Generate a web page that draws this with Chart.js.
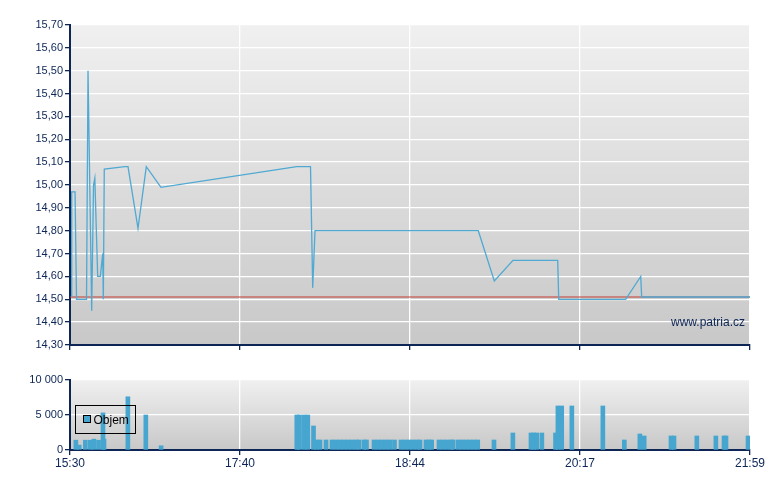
<!DOCTYPE html>
<html>
<head>
<meta charset="utf-8">
<script src="https://cdn.jsdelivr.net/npm/chart.js@4.4.1/dist/chart.umd.min.js"></script>
<style>
body { margin: 0; background: #fff; }
#wrap { position: relative; width: 780px; height: 490px; }
#priceChart { position: absolute; left: 0; top: 0; }
#volumeChart { position: absolute; left: 0; top: 360px; }
</style>
</head>
<body>
<div id="wrap">
  <canvas id="priceChart" width="780" height="360"></canvas>
  <canvas id="volumeChart" width="780" height="130"></canvas>
</div>
<script>
// time axis labels (evenly spaced on the chart, x is % of the session)
var timeLabels = ['15:30', '17:40', '18:44', '20:17', '21:59'];

// price trades
var priceX = [0.25, 0.25, 0.74, 0.96, 2.43, 2.65, 3.19, 3.46, 3.65, 4.07, 4.46, 4.81, 4.90, 5.04,
    8.09, 8.53, 10.0, 11.22, 13.38, 33.34, 35.37, 35.69, 36.03, 60.04, 62.4, 65.15, 71.72, 71.87,
    81.72, 83.93, 84.07, 100];
var priceY = [14.51, 14.97, 14.97, 14.50, 14.50, 15.50, 14.45, 15.00, 15.03, 14.60, 14.60, 14.70, 14.50, 15.07,
    15.08, 15.08, 14.81, 15.08, 14.99, 15.08, 15.08, 14.55, 14.80, 14.80, 14.58, 14.67, 14.67, 14.50,
    14.50, 14.60, 14.51, 14.51];
var prevClose = 14.51;

// volume bars
var volumeX = [0.86, 1.35, 2.26, 2.99, 3.51, 4.19, 5.0, 4.85, 8.51, 11.15, 13.40,
    33.35, 33.75, 34.44, 34.97, 35.81, 36.25, 36.76, 37.65,
    38.53, 39.12, 39.71, 40.29, 40.88, 41.47, 42.06, 42.5, 43.24, 43.6,
    44.71, 45.29, 45.88, 46.47, 47.06, 47.72,
    48.68, 49.26, 49.85, 50.44, 51.03, 51.47, 52.35, 52.79, 53.19,
    54.26, 54.85, 55.44, 56.03, 56.32, 57.06, 57.65, 58.24, 58.82, 59.41, 59.96,
    62.35, 65.13, 67.79, 68.19, 68.63, 69.39, 71.4, 71.75, 72.31, 73.8, 78.36,
    81.52, 83.8, 84.44, 88.38, 88.82, 92.18, 94.98, 96.18, 96.47, 99.71];
var volumeY = [1400, 700, 1400, 1400, 1550, 1400, 1550, 5300, 7600, 5000, 600,
    5000, 5000, 5000, 5000, 3430, 1430, 1430, 1430,
    1430, 1430, 1430, 1430, 1430, 1430, 1430, 1430, 1430, 1430,
    1430, 1430, 1430, 1430, 1430, 1430,
    1430, 1430, 1430, 1430, 1430, 1430, 1430, 1430, 1430,
    1430, 1430, 1430, 1430, 1430, 1430, 1430, 1430, 1430, 1430, 1430,
    1430, 2430, 2430, 2430, 2430, 2430, 2430, 6290, 6290, 6290, 6290,
    1430, 2290, 2000, 2000, 2000, 2000, 2000, 2000, 2000, 2000];

var navy = '#0d2656';
var blue = '#47a6cf';
var font = 'Arial, "Liberation Sans", sans-serif';

// gray gradient behind the plot area
var plotBackground = {
    id: 'plotBackground',
    beforeDraw: function (chart) {
        var a = chart.chartArea, ctx = chart.ctx;
        var g = ctx.createLinearGradient(0, a.top, 0, a.bottom);
        g.addColorStop(0, '#f0f0f0');
        g.addColorStop(1, '#c8c8c8');
        ctx.save();
        ctx.fillStyle = g;
        ctx.fillRect(a.left, a.top, a.right - a.left, a.bottom - a.top);
        ctx.restore();
    }
};

var watermark = {
    id: 'watermark',
    afterDraw: function (chart) {
        var a = chart.chartArea, ctx = chart.ctx;
        ctx.save();
        ctx.font = '12px ' + font;
        ctx.fillStyle = navy;
        ctx.textAlign = 'right';
        ctx.textBaseline = 'middle';
        ctx.fillText('www.patria.cz', a.right - 5, a.bottom - 22);
        ctx.restore();
    }
};

var volumeLegend = {
    id: 'volumeLegend',
    afterDraw: function (chart) {
        var a = chart.chartArea, ctx = chart.ctx;
        var x = a.left + 5.5, y = a.top + 25.5;
        ctx.save();
        ctx.strokeStyle = '#000';
        ctx.lineWidth = 1;
        ctx.strokeRect(x, y, 60, 28);
        ctx.fillStyle = blue;
        ctx.fillRect(x + 8, y + 10, 7, 7);
        ctx.strokeRect(x + 8, y + 10, 7, 7);
        ctx.font = '12px ' + font;
        ctx.fillStyle = '#000';
        ctx.textBaseline = 'middle';
        ctx.fillText(chart.data.datasets[0].label, x + 18, y + 15);
        ctx.restore();
    }
};

function xAxis(showLabels, height) {
    return {
        type: 'linear',
        min: 0,
        max: 100,
        offset: false,
        grid: { color: '#ffffff', lineWidth: 1.3, tickColor: navy, tickLength: 5, offset: false },
        border: { color: navy, width: 2 },
        ticks: {
            stepSize: 25,
            autoSkip: false,
            maxRotation: 0,
            padding: 1,
            color: showLabels ? navy : 'rgba(0,0,0,0)',
            font: { family: font, size: 12 },
            callback: function (v) { return timeLabels[Math.round(v / 25)]; }
        },
        afterFit: function (scale) { scale.height = height; }
    };
}

function yAxis(min, max, step, fmt) {
    return {
        min: min,
        max: max,
        grid: { color: '#ffffff', lineWidth: 1.3, tickColor: navy, tickLength: 5 },
        border: { color: navy, width: 2 },
        ticks: {
            stepSize: step,
            autoSkip: false,
            padding: 2,
            color: navy,
            font: { family: font, size: 11 },
            callback: fmt
        },
        afterFit: function (scale) { scale.width = 70; }
    };
}

var priceData = priceX.map(function (x, i) { return { x: x, y: priceY[i] }; });
var closeData = [{ x: 0, y: prevClose }, { x: 100, y: prevClose }];

new Chart(document.getElementById('priceChart'), {
    type: 'line',
    data: {
        datasets: [
            {
                label: 'Cena',
                data: priceData,
                borderColor: '#4fa9d3',
                borderWidth: 1.3,
                pointRadius: 0,
                tension: 0,
                fill: false
            },
            {
                label: 'Předchozí zavírací',
                data: closeData,
                borderColor: '#c43a32',
                borderWidth: 1.2,
                pointRadius: 0,
                fill: false
            }
        ]
    },
    options: {
        responsive: false,
        animation: false,
        layout: { padding: { left: 0, right: 30, top: 25, bottom: 0 } },
        plugins: { legend: { display: false }, tooltip: { enabled: false } },
        scales: {
            x: xAxis(false, 15),
            y: yAxis(14.3, 15.7, 0.1, function (v) { return v.toFixed(2).replace('.', ','); })
        }
    },
    plugins: [plotBackground, watermark]
});

var volumeData = volumeX.map(function (x, i) { return { x: x, y: volumeY[i] }; });

new Chart(document.getElementById('volumeChart'), {
    type: 'bar',
    data: {
        datasets: [
            {
                label: 'Objem',
                data: volumeData,
                backgroundColor: blue,
                borderWidth: 0,
                barThickness: 4,
                grouped: false
            }
        ]
    },
    options: {
        responsive: false,
        animation: false,
        layout: { padding: { left: 0, right: 30, top: 20, bottom: 0 } },
        plugins: { legend: { display: false }, tooltip: { enabled: false } },
        scales: {
            x: xAxis(true, 40),
            y: yAxis(0, 10000, 5000, function (v) { return v.toLocaleString('en-US').replace(/,/g, ' '); })
        }
    },
    plugins: [plotBackground, volumeLegend]
});
</script>
</body>
</html>
